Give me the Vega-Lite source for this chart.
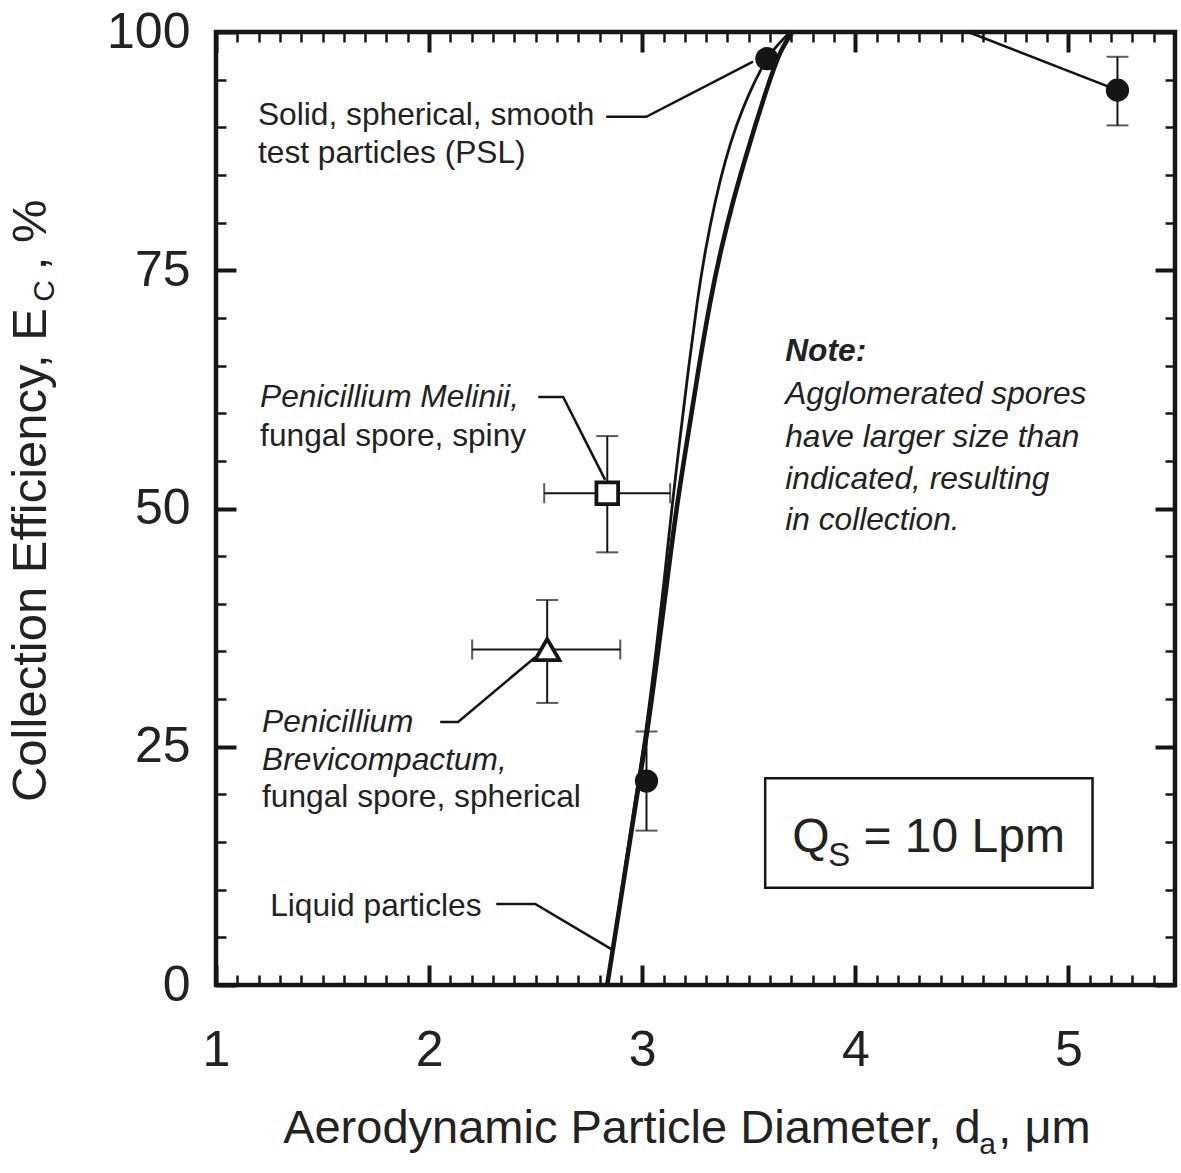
{
  "$schema": "https://vega.github.io/schema/vega-lite/v6.json",
  "width": 959,
  "height": 953,
  "autosize": {"type": "none"},
  "padding": {"left": 216, "top": 32, "right": 6, "bottom": 188},
  "background": "#ffffff",
  "config": {
    "view": {"stroke": "#151515", "strokeWidth": 4.5},
    "font": "Liberation Sans",
    "axis": {"domain": false, "grid": false, "tickColor": "#151515", "labelFont": "Liberation Sans", "labelColor": "#222222", "labelFontSize": 50, "labelFlush": false, "labelOverlap": false}
  },
  "datasets": {
    "solid_curve": [
      {"d": 2.8357, "e": 0}, {"d": 2.8967, "e": 8.92}, {"d": 2.9671, "e": 19.41}, {"d": 3.0188, "e": 26.76},
      {"d": 3.0657, "e": 35.15}, {"d": 3.1033, "e": 42.5}, {"d": 3.1385, "e": 49.95}, {"d": 3.1761, "e": 57.19},
      {"d": 3.216, "e": 64.53}, {"d": 3.2582, "e": 71.88}, {"d": 3.2958, "e": 77.12}, {"d": 3.3427, "e": 82.37},
      {"d": 3.3897, "e": 86.57}, {"d": 3.4413, "e": 90.24}, {"d": 3.4977, "e": 93.39}, {"d": 3.554, "e": 96.01},
      {"d": 3.6103, "e": 98.11}, {"d": 3.6948, "e": 100}
    ],
    "liquid_curve": [
      {"d": 2.8357, "e": 0}, {"d": 2.8991, "e": 8.92}, {"d": 2.9718, "e": 19.41}, {"d": 3.0258, "e": 26.76},
      {"d": 3.0751, "e": 35.15}, {"d": 3.1174, "e": 42.5}, {"d": 3.1596, "e": 49.95}, {"d": 3.2113, "e": 57.19},
      {"d": 3.2629, "e": 64.53}, {"d": 3.3192, "e": 71.88}, {"d": 3.3685, "e": 77.12}, {"d": 3.4272, "e": 82.37},
      {"d": 3.4812, "e": 86.57}, {"d": 3.5305, "e": 90.24}, {"d": 3.5751, "e": 93.39}, {"d": 3.615, "e": 96.01},
      {"d": 3.6502, "e": 98.11}, {"d": 3.7042, "e": 100}
    ],
    "measured": [
      {"particle": "PSL", "d": 3.02, "e": 21.4, "e_lo": 16.2, "e_hi": 26.6},
      {"particle": "PSL", "d": 3.585, "e": 97.2},
      {"particle": "PSL", "d": 5.23, "e": 93.9, "e_lo": 90.2, "e_hi": 97.4},
      {"particle": "P. melinii", "d": 2.836, "e": 51.6, "e_lo": 45.4, "e_hi": 57.6, "d_lo": 2.54, "d_hi": 3.131},
      {"particle": "P. brevicompactum", "d": 2.554, "e": 35.2, "e_lo": 29.6, "e_hi": 40.4, "d_lo": 2.202, "d_hi": 2.897}
    ],
    "leaders": [
      {"lead": "psl", "i": 0, "d": 2.831, "e": 91.1}, {"lead": "psl", "i": 1, "d": 3.019, "e": 91.1}, {"lead": "psl", "i": 2, "d": 3.52, "e": 96.9},
      {"lead": "melinii", "i": 0, "d": 2.512, "e": 61.7}, {"lead": "melinii", "i": 1, "d": 2.629, "e": 61.7}, {"lead": "melinii", "i": 2, "d": 2.826, "e": 53.0},
      {"lead": "brevi", "i": 0, "d": 2.052, "e": 27.6}, {"lead": "brevi", "i": 1, "d": 2.136, "e": 27.6}, {"lead": "brevi", "i": 2, "d": 2.498, "e": 34.4},
      {"lead": "liquid", "i": 0, "d": 2.315, "e": 8.5}, {"lead": "liquid", "i": 1, "d": 2.498, "e": 8.5}, {"lead": "liquid", "i": 2, "d": 2.859, "e": 3.7},
      {"lead": "psl_tail", "i": 0, "d": 4.53, "e": 100}, {"lead": "psl_tail", "i": 1, "d": 5.23, "e": 93.9}
    ],
    "box": [{"d_lo": 3.577, "d_hi": 5.113, "e_lo": 10.2, "e_hi": 21.7}],
    "labels": [
      {"role": "note", "d": 1.197, "e": 91.3, "text": "Solid, spherical, smooth"},
      {"role": "note", "d": 1.197, "e": 87.3, "text": "test particles (PSL)"},
      {"role": "note-italic", "d": 1.207, "e": 61.7, "text": "Penicillium Melinii,"},
      {"role": "note", "d": 1.207, "e": 57.6, "text": "fungal spore, spiny"},
      {"role": "note-italic", "d": 1.216, "e": 27.6, "text": "Penicillium"},
      {"role": "note-italic", "d": 1.216, "e": 23.6, "text": "Brevicompactum,"},
      {"role": "note", "d": 1.216, "e": 19.7, "text": "fungal spore, spherical"},
      {"role": "note", "d": 1.254, "e": 8.3, "text": "Liquid particles"},
      {"role": "note-bold", "d": 3.671, "e": 66.5, "text": "Note:"},
      {"role": "note-italic", "d": 3.671, "e": 62.0, "text": "Agglomerated spores"},
      {"role": "note-italic", "d": 3.671, "e": 57.5, "text": "have larger size than"},
      {"role": "note-italic", "d": 3.671, "e": 53.1, "text": "indicated, resulting"},
      {"role": "note-italic", "d": 3.671, "e": 48.8, "text": "in collection."},
      {"role": "x-title", "d": 1.315, "e": -16.6, "text": "Aerodynamic Particle Diameter, d"},
      {"role": "x-sub", "d": 4.582, "e": -17.7, "text": "a"},
      {"role": "x-title", "d": 4.671, "e": -16.6, "text": ", μm"},
      {"role": "y-title", "d": 0.2019, "e": 19.2, "text": "Collection Efficiency, E"},
      {"role": "y-sub", "d": 0.24, "e": 71.7, "text": "C"},
      {"role": "y-title", "d": 0.2019, "e": 75.0, "text": ", %"},
      {"role": "q", "d": 3.704, "e": 13.96, "text": "Q"},
      {"role": "q-sub", "d": 3.873, "e": 12.49, "text": "S"},
      {"role": "q", "d": 4.038, "e": 13.96, "text": "= 10 Lpm"}
    ]
  },
  "layer": [
    {
      "data": {"name": "solid_curve"},
      "mark": {"type": "line", "interpolate": "basis", "stroke": "#151515", "strokeWidth": 2.8},
      "encoding": {
        "x": {"field": "d", "type": "quantitative", "scale": {"domain": [1, 5.5], "nice": false, "zero": false},
              "axis": {"orient": "bottom", "title": null, "values": [1, 2, 3, 4, 5], "tickSize": -20, "tickWidth": 4, "labelPadding": 60, "labelBaseline": "top"}},
        "y": {"field": "e", "type": "quantitative", "scale": {"domain": [0, 100], "nice": false, "zero": false},
              "axis": {"orient": "left", "title": null, "values": [0, 25, 50, 75, 100], "tickSize": -20, "tickWidth": 4, "labelPadding": 46}},
        "order": {"field": "e", "type": "quantitative"}
      }
    },
    {
      "data": {"name": "liquid_curve"},
      "mark": {"type": "line", "interpolate": "basis", "stroke": "#151515", "strokeWidth": 4.6},
      "encoding": {
        "x": {"field": "d", "type": "quantitative", "scale": {"domain": [1, 5.5], "nice": false, "zero": false},
              "axis": {"orient": "bottom", "title": null, "labels": false, "values": [1.1, 1.2, 1.3, 1.4, 1.5, 1.6, 1.7, 1.8, 1.9, 2.1, 2.2, 2.3, 2.4, 2.5, 2.6, 2.7, 2.8, 2.9, 3.1, 3.2, 3.3, 3.4, 3.5, 3.6, 3.7, 3.8, 3.9, 4.1, 4.2, 4.3, 4.4, 4.5, 4.6, 4.7, 4.8, 4.9, 5.1, 5.2, 5.3, 5.4], "tickSize": -10, "tickWidth": 2.5}},
        "y": {"field": "e", "type": "quantitative", "scale": {"domain": [0, 100], "nice": false, "zero": false},
              "axis": {"orient": "left", "title": null, "labels": false, "values": [5, 10, 15, 20, 30, 35, 40, 45, 55, 60, 65, 70, 80, 85, 90, 95], "tickSize": -10, "tickWidth": 2.5}},
        "order": {"field": "e", "type": "quantitative"}
      }
    },
    {
      "data": {"name": "leaders"},
      "mark": {"type": "line", "stroke": "#151515", "strokeWidth": 2.6},
      "encoding": {
        "x": {"field": "d", "type": "quantitative", "scale": {"domain": [1, 5.5], "nice": false, "zero": false},
              "axis": {"orient": "top", "title": null, "labels": false, "values": [1, 2, 3, 4, 5], "tickSize": -20, "tickWidth": 4}},
        "y": {"field": "e", "type": "quantitative", "scale": {"domain": [0, 100], "nice": false, "zero": false},
              "axis": {"orient": "right", "title": null, "labels": false, "values": [0, 25, 50, 75, 100], "tickSize": -20, "tickWidth": 4}},
        "detail": {"field": "lead", "type": "nominal"},
        "order": {"field": "i", "type": "quantitative"}
      }
    },
    {
      "data": {"name": "measured"},
      "transform": [{"filter": "isValid(datum.e_lo)"}],
      "mark": {"type": "rule", "stroke": "#151515", "strokeWidth": 2},
      "encoding": {
        "x": {"field": "d", "type": "quantitative", "scale": {"domain": [1, 5.5], "nice": false, "zero": false},
              "axis": {"orient": "top", "title": null, "labels": false, "values": [1.1, 1.2, 1.3, 1.4, 1.5, 1.6, 1.7, 1.8, 1.9, 2.1, 2.2, 2.3, 2.4, 2.5, 2.6, 2.7, 2.8, 2.9, 3.1, 3.2, 3.3, 3.4, 3.5, 3.6, 3.7, 3.8, 3.9, 4.1, 4.2, 4.3, 4.4, 4.5, 4.6, 4.7, 4.8, 4.9, 5.1, 5.2, 5.3, 5.4], "tickSize": -10, "tickWidth": 2.5}},
        "y": {"field": "e_lo", "type": "quantitative", "scale": {"domain": [0, 100], "nice": false, "zero": false},
              "axis": {"orient": "right", "title": null, "labels": false, "values": [5, 10, 15, 20, 30, 35, 40, 45, 55, 60, 65, 70, 80, 85, 90, 95], "tickSize": -10, "tickWidth": 2.5}},
        "y2": {"field": "e_hi"}
      }
    },
    {
      "data": {"name": "measured"},
      "transform": [{"filter": "isValid(datum.e_lo)"}],
      "mark": {"type": "tick", "orient": "horizontal", "color": "#151515", "size": 22, "thickness": 2},
      "encoding": {
        "x": {"field": "d", "type": "quantitative", "scale": {"domain": [1, 5.5], "nice": false, "zero": false}, "axis": null},
        "y": {"field": "e_lo", "type": "quantitative", "scale": {"domain": [0, 100], "nice": false, "zero": false}, "axis": null}
      }
    },
    {
      "data": {"name": "measured"},
      "transform": [{"filter": "isValid(datum.e_hi)"}],
      "mark": {"type": "tick", "orient": "horizontal", "color": "#151515", "size": 22, "thickness": 2},
      "encoding": {
        "x": {"field": "d", "type": "quantitative", "scale": {"domain": [1, 5.5], "nice": false, "zero": false}, "axis": null},
        "y": {"field": "e_hi", "type": "quantitative", "scale": {"domain": [0, 100], "nice": false, "zero": false}, "axis": null}
      }
    },
    {
      "data": {"name": "measured"},
      "transform": [{"filter": "isValid(datum.d_lo)"}],
      "mark": {"type": "rule", "stroke": "#151515", "strokeWidth": 2},
      "encoding": {
        "x": {"field": "d_lo", "type": "quantitative", "scale": {"domain": [1, 5.5], "nice": false, "zero": false}, "axis": null},
        "x2": {"field": "d_hi"},
        "y": {"field": "e", "type": "quantitative", "scale": {"domain": [0, 100], "nice": false, "zero": false}, "axis": null}
      }
    },
    {
      "data": {"name": "measured"},
      "transform": [{"filter": "isValid(datum.d_lo)"}],
      "mark": {"type": "tick", "orient": "vertical", "color": "#151515", "size": 20, "thickness": 2},
      "encoding": {
        "x": {"field": "d_lo", "type": "quantitative", "scale": {"domain": [1, 5.5], "nice": false, "zero": false}, "axis": null},
        "y": {"field": "e", "type": "quantitative", "scale": {"domain": [0, 100], "nice": false, "zero": false}, "axis": null}
      }
    },
    {
      "data": {"name": "measured"},
      "transform": [{"filter": "isValid(datum.d_hi)"}],
      "mark": {"type": "tick", "orient": "vertical", "color": "#151515", "size": 20, "thickness": 2},
      "encoding": {
        "x": {"field": "d_hi", "type": "quantitative", "scale": {"domain": [1, 5.5], "nice": false, "zero": false}, "axis": null},
        "y": {"field": "e", "type": "quantitative", "scale": {"domain": [0, 100], "nice": false, "zero": false}, "axis": null}
      }
    },
    {
      "data": {"name": "measured"},
      "transform": [{"filter": "datum.particle === 'PSL'"}],
      "mark": {"type": "point", "shape": "circle", "filled": true, "color": "#151515", "opacity": 1, "size": 540},
      "encoding": {
        "x": {"field": "d", "type": "quantitative", "scale": {"domain": [1, 5.5], "nice": false, "zero": false}, "axis": null},
        "y": {"field": "e", "type": "quantitative", "scale": {"domain": [0, 100], "nice": false, "zero": false}, "axis": null}
      }
    },
    {
      "data": {"name": "measured"},
      "transform": [{"filter": "datum.particle === 'P. melinii'"}],
      "mark": {"type": "point", "shape": "square", "filled": true, "fill": "#ffffff", "stroke": "#151515", "strokeWidth": 3.8, "opacity": 1, "size": 470},
      "encoding": {
        "x": {"field": "d", "type": "quantitative", "scale": {"domain": [1, 5.5], "nice": false, "zero": false}, "axis": null},
        "y": {"field": "e", "type": "quantitative", "scale": {"domain": [0, 100], "nice": false, "zero": false}, "axis": null}
      }
    },
    {
      "data": {"name": "measured"},
      "transform": [{"filter": "datum.particle === 'P. brevicompactum'"}],
      "mark": {"type": "point", "shape": "triangle-up", "filled": true, "fill": "#ffffff", "stroke": "#151515", "strokeWidth": 3.8, "opacity": 1, "size": 600},
      "encoding": {
        "x": {"field": "d", "type": "quantitative", "scale": {"domain": [1, 5.5], "nice": false, "zero": false}, "axis": null},
        "y": {"field": "e", "type": "quantitative", "scale": {"domain": [0, 100], "nice": false, "zero": false}, "axis": null}
      }
    },
    {
      "data": {"name": "box"},
      "mark": {"type": "rect", "fill": "#ffffff", "fillOpacity": 0, "stroke": "#151515", "strokeWidth": 2.5},
      "encoding": {
        "x": {"field": "d_lo", "type": "quantitative", "scale": {"domain": [1, 5.5], "nice": false, "zero": false}, "axis": null},
        "x2": {"field": "d_hi"},
        "y": {"field": "e_lo", "type": "quantitative", "scale": {"domain": [0, 100], "nice": false, "zero": false}, "axis": null},
        "y2": {"field": "e_hi"}
      }
    },
    {
      "data": {"name": "labels"},
      "transform": [{"filter": "datum.role === 'note'"}],
      "mark": {"type": "text", "align": "left", "baseline": "middle", "font": "Liberation Sans", "fontSize": 31.7, "color": "#222222"},
      "encoding": {
        "x": {"field": "d", "type": "quantitative", "scale": {"domain": [1, 5.5], "nice": false, "zero": false}, "axis": null},
        "y": {"field": "e", "type": "quantitative", "scale": {"domain": [0, 100], "nice": false, "zero": false}, "axis": null},
        "text": {"field": "text"}
      }
    },
    {
      "data": {"name": "labels"},
      "transform": [{"filter": "datum.role === 'note-italic'"}],
      "mark": {"type": "text", "align": "left", "baseline": "middle", "font": "Liberation Sans", "fontStyle": "italic", "fontSize": 31.7, "color": "#222222"},
      "encoding": {
        "x": {"field": "d", "type": "quantitative", "scale": {"domain": [1, 5.5], "nice": false, "zero": false}, "axis": null},
        "y": {"field": "e", "type": "quantitative", "scale": {"domain": [0, 100], "nice": false, "zero": false}, "axis": null},
        "text": {"field": "text"}
      }
    },
    {
      "data": {"name": "labels"},
      "transform": [{"filter": "datum.role === 'note-bold'"}],
      "mark": {"type": "text", "align": "left", "baseline": "middle", "font": "Liberation Sans", "fontStyle": "italic", "fontWeight": "bold", "fontSize": 31.7, "color": "#222222"},
      "encoding": {
        "x": {"field": "d", "type": "quantitative", "scale": {"domain": [1, 5.5], "nice": false, "zero": false}, "axis": null},
        "y": {"field": "e", "type": "quantitative", "scale": {"domain": [0, 100], "nice": false, "zero": false}, "axis": null},
        "text": {"field": "text"}
      }
    },
    {
      "data": {"name": "labels"},
      "transform": [{"filter": "datum.role === 'x-title'"}],
      "mark": {"type": "text", "align": "left", "baseline": "alphabetic", "font": "Liberation Sans", "fontSize": 47, "color": "#222222"},
      "encoding": {
        "x": {"field": "d", "type": "quantitative", "scale": {"domain": [1, 5.5], "nice": false, "zero": false}, "axis": null},
        "y": {"field": "e", "type": "quantitative", "scale": {"domain": [0, 100], "nice": false, "zero": false}, "axis": null},
        "text": {"field": "text"}
      }
    },
    {
      "data": {"name": "labels"},
      "transform": [{"filter": "datum.role === 'x-sub'"}],
      "mark": {"type": "text", "align": "left", "baseline": "alphabetic", "font": "Liberation Sans", "fontSize": 30, "color": "#222222"},
      "encoding": {
        "x": {"field": "d", "type": "quantitative", "scale": {"domain": [1, 5.5], "nice": false, "zero": false}, "axis": null},
        "y": {"field": "e", "type": "quantitative", "scale": {"domain": [0, 100], "nice": false, "zero": false}, "axis": null},
        "text": {"field": "text"}
      }
    },
    {
      "data": {"name": "labels"},
      "transform": [{"filter": "datum.role === 'y-title'"}],
      "mark": {"type": "text", "align": "left", "baseline": "alphabetic", "angle": 270, "font": "Liberation Sans", "fontSize": 49, "color": "#222222"},
      "encoding": {
        "x": {"field": "d", "type": "quantitative", "scale": {"domain": [1, 5.5], "nice": false, "zero": false}, "axis": null},
        "y": {"field": "e", "type": "quantitative", "scale": {"domain": [0, 100], "nice": false, "zero": false}, "axis": null},
        "text": {"field": "text"}
      }
    },
    {
      "data": {"name": "labels"},
      "transform": [{"filter": "datum.role === 'y-sub'"}],
      "mark": {"type": "text", "align": "left", "baseline": "alphabetic", "angle": 270, "font": "Liberation Sans", "fontSize": 30, "color": "#222222"},
      "encoding": {
        "x": {"field": "d", "type": "quantitative", "scale": {"domain": [1, 5.5], "nice": false, "zero": false}, "axis": null},
        "y": {"field": "e", "type": "quantitative", "scale": {"domain": [0, 100], "nice": false, "zero": false}, "axis": null},
        "text": {"field": "text"}
      }
    },
    {
      "data": {"name": "labels"},
      "transform": [{"filter": "datum.role === 'q'"}],
      "mark": {"type": "text", "align": "left", "baseline": "alphabetic", "font": "Liberation Sans", "fontSize": 48, "color": "#222222"},
      "encoding": {
        "x": {"field": "d", "type": "quantitative", "scale": {"domain": [1, 5.5], "nice": false, "zero": false}, "axis": null},
        "y": {"field": "e", "type": "quantitative", "scale": {"domain": [0, 100], "nice": false, "zero": false}, "axis": null},
        "text": {"field": "text"}
      }
    },
    {
      "data": {"name": "labels"},
      "transform": [{"filter": "datum.role === 'q-sub'"}],
      "mark": {"type": "text", "align": "left", "baseline": "alphabetic", "font": "Liberation Sans", "fontSize": 33, "color": "#222222"},
      "encoding": {
        "x": {"field": "d", "type": "quantitative", "scale": {"domain": [1, 5.5], "nice": false, "zero": false}, "axis": null},
        "y": {"field": "e", "type": "quantitative", "scale": {"domain": [0, 100], "nice": false, "zero": false}, "axis": null},
        "text": {"field": "text"}
      }
    }
  ],
  "resolve": {"axis": {"x": "independent", "y": "independent"}}
}
